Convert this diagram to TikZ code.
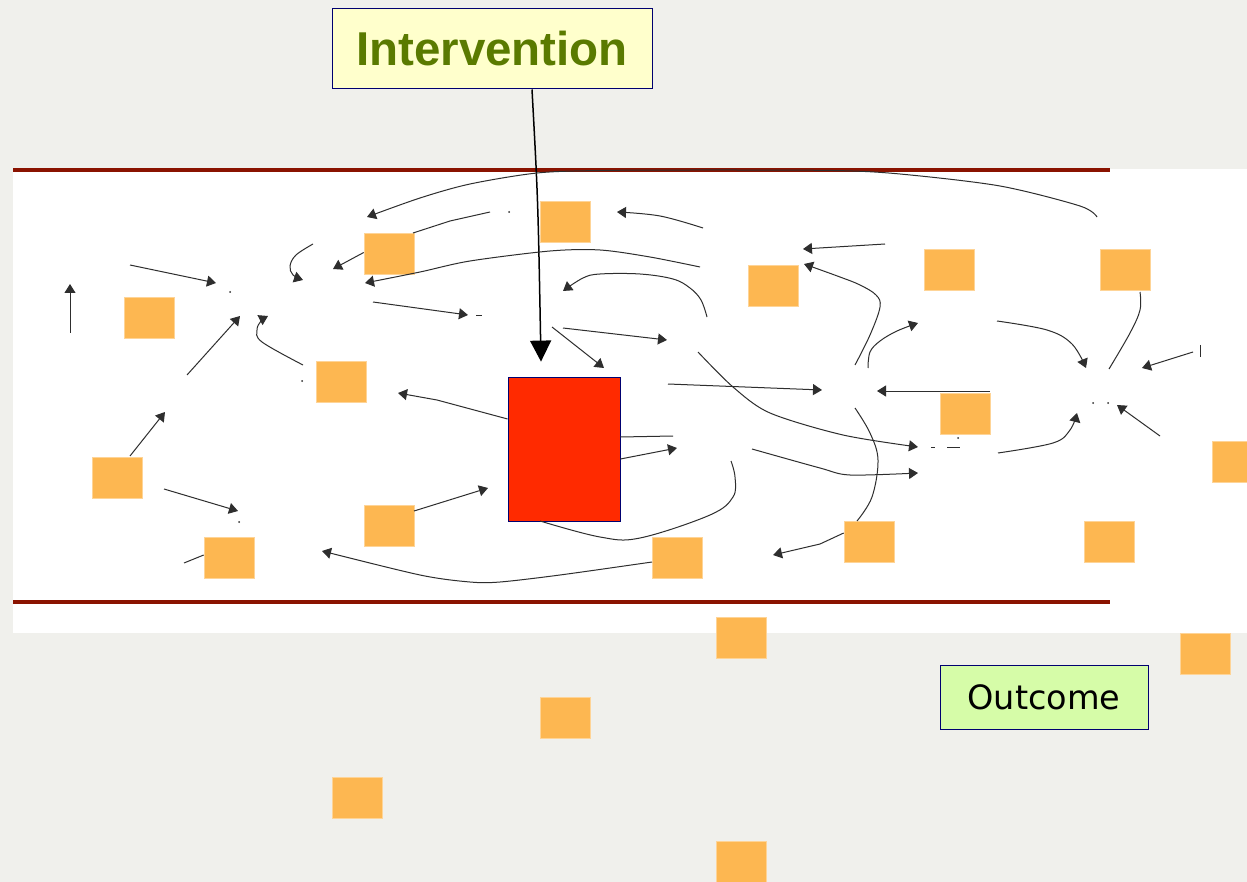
\documentclass[tikz,border=0pt]{standalone}
\usepackage{fontspec}
\setmainfont{Liberation Sans}
\newfontfamily\outfont{DejaVu Sans}
\usetikzlibrary{arrows.meta,calc}
\definecolor{bggrey}{HTML}{F0F0EC}
\definecolor{bandred}{HTML}{8A1300}
\definecolor{sqorange}{HTML}{FDB751}
\definecolor{redbox}{HTML}{FF2A00}
\definecolor{navy}{HTML}{000070}
\definecolor{intfill}{HTML}{FFFFCC}
\definecolor{inttext}{HTML}{5A7A00}
\definecolor{outfill}{HTML}{D6FCA8}
\definecolor{linegrey}{HTML}{2E2E2E}
\tikzset{
  sq/.style={rectangle, fill=sqorange, draw=sqorange!60!white, line width=0.6pt, minimum width=50pt, minimum height=41pt, inner sep=0pt},
  lnk/.style={draw=linegrey, line width=1pt},
  arr/.style={lnk, -{Triangle[length=9pt,width=11pt]}},
  dotmark/.style={circle, fill=linegrey, inner sep=0pt, minimum size=2pt},
}
\begin{document}
\begin{tikzpicture}[x=1pt,y=-1pt]
\useasboundingbox (0,0) rectangle (1247,882);
\fill[bggrey] (0,0) rectangle (1247,882);
\fill[white] (13,169) rectangle (1247,633);
\draw[bandred, line width=3.5pt] (13,170) -- (1110,170);
\draw[bandred, line width=3.5pt] (13,602) -- (1110,602);

% orange squares
\node[sq] (s1) at (149,317.5) {};
\node[sq] (s2) at (389,253.5) {};
\node[sq] (s3) at (565,222) {};
\node[sq] (s4) at (341,381.5) {};
\node[sq] (s5) at (773,286) {};
\node[sq] (s6) at (949,269.5) {};
\node[sq] (s7) at (1125,269.5) {};
\node[sq] (s8) at (965,414) {};
\node[sq] (s9) at (117,478) {};
\node[sq] (s10) at (389,526) {};
\node[sq] (s11) at (229,558) {};
\node[sq] (s12) at (677,558) {};
\node[sq] (s13) at (869,542) {};
\node[sq] (s14) at (1109,542) {};
\node[sq] (s15) at (1237,462) {};
\node[sq] (s16) at (741,638) {};
\node[sq] (s17) at (1205,654) {};
\node[sq] (s18) at (565,718) {};
\node[sq] (s19) at (357,798) {};
\node[sq] (s20) at (741,862) {};

% red box
\node[rectangle, fill=redbox, draw=navy, line width=0.8pt, minimum width=112pt, minimum height=144pt, inner sep=0pt] (rb) at (564,449) {};

% intervention and outcome
\node[rectangle, fill=intfill, draw=navy, line width=1pt, minimum width=320pt, minimum height=80pt, inner sep=0pt, text=inttext, font=\fontsize{47.5}{50}\selectfont\bfseries] (intv) at (492,49) {Intervention};
\node[rectangle, fill=outfill, draw=navy, line width=1pt, minimum width=208pt, minimum height=64pt, inner sep=0pt, font=\outfont\fontsize{33.5}{36}\selectfont] (out) at (1044,697) {Outcome\hspace{3pt}};

\draw[line width=1.5pt, -{Triangle[length=21pt,width=21pt]}] ([xshift=40pt]intv.south) .. controls (538,200) .. ([xshift=-23pt,yshift=15pt]rb.north);

% thin arrows
\draw[arr] (70,333) -- (70,284);
\draw[arr] (130,265) -- (216,283);
\draw[arr] (187,375) -- (240,316);
\draw[arr] plot[smooth, tension=0.6] coordinates {(303,365) (262,342) (257,330) (261,321) (268,316)};
\draw[arr] plot[smooth, tension=0.6] coordinates {(313,244) (296,255) (290,266) (293,275) (303,280)};
\draw[arr] (s2.west) ++(0,-1) -- (333,269);
\draw[arr] plot[smooth, tension=0.5] coordinates {(1097,217) (1080,206) (1000,186) (900,174) (833,170.5) (700,170) (600,170.5) (537,173) (470,184) (420,198) (367,217)};
\draw[lnk] (413,233) -- (450,221) -- (490,212);
\draw[arr] plot[smooth, tension=0.6] coordinates {(703,228) (660,216) (617,212)};
\draw[arr] plot[smooth, tension=0.5] coordinates {(700,267) (650,257) (600,250) (550,251) (470,261) (420,272) (365,283)};
\draw[arr] plot[smooth, tension=0.6] coordinates {(707,317) (701,300) (690,288) (673,279) (640,274) (600,274) (583,278) (563,291)};
\draw[arr] (373,302) -- (468,315);
\draw[lnk] (476,316) -- (482,316);
\draw[arr] (552,327) -- (604,368);
\draw[arr] (563,328) -- (667,340);
\draw[arr] plot[smooth, tension=0.5] coordinates {(698,352) (733,387) (770,413) (843,435) (918,447)};
\draw[lnk] (931,447) -- (935,447);
\draw[lnk] (947,447) -- (960,447);
\draw[arr] (668,384) -- (822,390);
\draw[arr] (rb.west) ++(0,-30) -- (437,400) -- (398,393);
\draw[lnk] (rb.east) ++(0,-12) -- (673,436);
\draw[arr] (rb.east) ++(0,10) -- (677,448);
\draw[arr] (885,244) -- (803,249);
\draw[arr] plot[smooth, tension=0.6] coordinates {(855,365) (870,335) (880,307) (876,295) (860,285) (840,277) (804,264)};
\draw[arr] plot[smooth, tension=0.6] coordinates {(868,368) (870,352) (880,341) (897,331) (918,323)};
\draw[arr] (990,391) -- (877,391);
\draw[arr] plot[smooth, tension=0.6] coordinates {(997,321) (1047,330) (1072,344) (1086,368)};
\draw[lnk] plot[smooth, tension=0.6] coordinates {(1140,292) (1140,310) (1130,333) (1109,369)};
\draw[arr] (1193,352) -- (1142,368);
\draw[lnk] (1200,345) -- (1200,357);
\draw[arr] (1160,436) -- (1117,405);
\node[dotmark] (d1) at (1093,403) {};
\node[dotmark] (d2) at (1108,403) {};
\draw[arr] plot[smooth, tension=0.6] coordinates {(998,453) (1053,443) (1070,430) (1077,413)};
\draw[lnk] plot[smooth, tension=0.6] coordinates {(855,408) (870,433) (878,460) (872,497) (857,521)};
\draw[arr] plot[smooth, tension=0.5] coordinates {(752,449) (820,468) (850,475) (918,473)};
\draw[arr] (s13.west) ++(0,-9) -- (820,544) -- (773,555);
\draw[lnk] plot[smooth, tension=0.6] coordinates {(540,521) (600,537) (640,538) (710,515) (733,497) (735,477) (731,461)};
\draw[arr] plot[smooth, tension=0.5] coordinates {(652,562) (560,575) (500,582) (470,582) (420,575) (322,551)};
\draw[arr] (414,511) -- (488,488);
\draw[arr] (130,456) -- (165,412);
\draw[arr] (164,489) -- (238,511);
\draw[lnk] (s11.west) ++(0,-3) -- (184,563);

% stray dots
\node[dotmark] (d3) at (230,292) {};
\node[dotmark] (d4) at (302,381) {};
\node[dotmark] (d5) at (509,212) {};
\node[dotmark] (d6) at (958,438) {};
\node[dotmark] (d7) at (239,522) {};
\end{tikzpicture}
\end{document}
